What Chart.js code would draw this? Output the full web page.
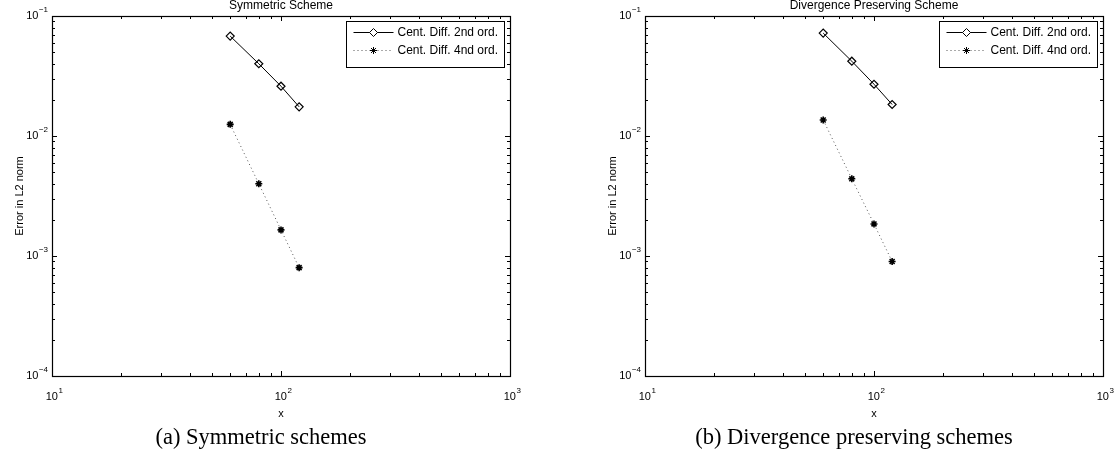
<!DOCTYPE html>
<html>
<head>
<meta charset="utf-8">
<script src="https://cdn.jsdelivr.net/npm/chart.js@4.4.0/dist/chart.umd.min.js"></script>
<style>
html,body{margin:0;padding:0;background:#fff;width:1115px;height:454px;overflow:hidden;}
.panel{position:absolute;top:0;width:522px;height:430px;}
.cap{position:absolute;top:424px;font-family:'Liberation Serif',serif;font-size:22.5px;line-height:26px;white-space:nowrap;transform:translateX(-50%);color:#000;}
</style>
</head>
<body>
<div class="panel" style="left:0"><canvas id="c1" width="522" height="430"></canvas></div>
<div class="panel" style="left:593px"><canvas id="c2" width="522" height="430"></canvas></div>
<div class="cap" style="left:261px">(a) Symmetric schemes</div>
<div class="cap" style="left:854px">(b) Divergence preserving schemes</div>
<script>
// ---- data ----
const gridSizes = [60, 80, 100, 120];
const symSecond = [0.068, 0.040, 0.026, 0.0175];
const symFourth = [0.0125, 0.0040, 0.00165, 0.0008];
const divSecond = [0.072, 0.042, 0.027, 0.0183];
const divFourth = [0.0136, 0.0044, 0.00185, 0.0009];
const xTickValues = [10, 100, 1000];
const xTickExponents = ['1', '2', '3'];
const yTickValues = [1e-4, 1e-3, 1e-2, 1e-1];
const yTickExponents = ['\u22124', '\u22123', '\u22122', '\u22121'];
const tickBase = '10';
const seriesLabels = ['Cent. Diff. 2nd ord.', 'Cent. Diff. 4nd ord.'];
const panelTitles = ['Symmetric Scheme', 'Divergence Preserving Scheme'];
const xAxisTitle = 'x';
const yAxisTitle = 'Error in L2 norm';

const SANS = "'Liberation Sans', Arial, sans-serif";

function minorValues(lo, hi) {
  const out = [];
  for (let d = lo; d < hi * 0.999; d *= 10) {
    for (let k = 1; k <= 9; k++) out.push({v: k * d, major: k === 1});
  }
  out.push({v: hi, major: true});
  return out;
}

const framePlugin = {
  id: 'frame',
  afterDatasetsDraw(chart, args, opts) {
    const {ctx, chartArea: a, scales: {x, y}} = chart;
    ctx.save();
    ctx.strokeStyle = '#000';
    ctx.lineWidth = 1;
    // inward ticks (major + minor) on all four sides
    ctx.beginPath();
    minorValues(10, 1000).forEach(t => {
      const px = Math.round(x.getPixelForValue(t.v)) + 0.5;
      const len = t.major ? 5 : 3;
      ctx.moveTo(px, a.bottom); ctx.lineTo(px, a.bottom - len);
      ctx.moveTo(px, a.top); ctx.lineTo(px, a.top + len);
    });
    minorValues(1e-4, 1e-1).forEach(t => {
      const py = Math.round(y.getPixelForValue(t.v)) + 0.5;
      const len = t.major ? 5 : 3;
      ctx.moveTo(a.left, py); ctx.lineTo(a.left + len, py);
      ctx.moveTo(a.right, py); ctx.lineTo(a.right - len, py);
    });
    ctx.stroke();
    // box
    ctx.lineWidth = 1.2;
    ctx.strokeRect(Math.round(a.left) + 0.5, Math.round(a.top) + 0.5,
                   Math.round(a.right - a.left), Math.round(a.bottom - a.top));

    // tick labels: 10 with superscript exponent, placed by the scales
    const baseFont = '11px ' + SANS, expFont = '8px ' + SANS;
    ctx.fillStyle = '#000';
    ctx.textBaseline = 'middle';
    x.ticks.forEach((t, i) => {
      const px = x.getPixelForValue(t.value);
      ctx.font = baseFont; const wb = ctx.measureText(tickBase).width;
      ctx.font = expFont; const we = ctx.measureText(xTickExponents[i]).width;
      const x0 = px - (wb + we) / 2 + 2;
      const ly = a.bottom + 21;
      ctx.textAlign = 'left';
      ctx.font = baseFont; ctx.fillText(tickBase, x0, ly);
      ctx.font = expFont; ctx.fillText(xTickExponents[i], x0 + wb + 0.5, ly - 6);
    });
    y.ticks.forEach((t, i) => {
      const py = y.getPixelForValue(t.value);
      ctx.font = expFont; const we = ctx.measureText(yTickExponents[i]).width;
      const xr = a.left - 4;
      ctx.textAlign = 'right';
      ctx.fillText(yTickExponents[i], xr, py - 6);
      ctx.font = baseFont; ctx.fillText(tickBase, xr - we - 0.5, py);
    });

    // title
    ctx.font = '12px ' + SANS;
    ctx.textAlign = 'center';
    ctx.fillText(opts.text, (a.left + a.right) / 2, a.top - 10);

    // legend
    const bw = 158, bh = 46;
    const bx = Math.round(a.right - 6 - bw) + 0.5, by = Math.round(a.top + 5) + 0.5;
    ctx.fillStyle = '#fff';
    ctx.fillRect(bx, by, bw, bh);
    ctx.lineWidth = 1;
    ctx.strokeStyle = '#000';
    ctx.strokeRect(bx, by, bw, bh);
    chart.data.datasets.forEach((ds, i) => {
      const ry = by + 11 + i * 18;
      ctx.save();
      ctx.strokeStyle = ds.borderColor;
      ctx.lineWidth = ds.borderWidth;
      ctx.setLineDash(ds.borderDash || []);
      ctx.beginPath();
      ctx.moveTo(bx + 7, ry); ctx.lineTo(bx + 47, ry);
      ctx.stroke();
      ctx.restore();
      ctx.save();
      ctx.strokeStyle = ds.pointBorderColor;
      ctx.fillStyle = '#fff';
      Chart.helpers.drawPoint(ctx, {pointStyle: ds.pointStyle, rotation: 0,
        radius: ds.pointRadius, borderWidth: ds.pointBorderWidth}, bx + 27, ry);
      ctx.restore();
      ctx.fillStyle = '#000';
      ctx.font = '12px ' + SANS;
      ctx.textAlign = 'left';
      ctx.textBaseline = 'middle';
      ctx.fillText(ds.label, bx + 51, ry);
    });
    ctx.restore();
  }
};

function makeChart(id, title, second, fourth) {
  return new Chart(document.getElementById(id), {
    type: 'scatter',
    data: {
      datasets: [
        {
          label: seriesLabels[0],
          data: gridSizes.map((v, i) => ({x: v, y: second[i]})),
          showLine: true, borderColor: '#000', borderWidth: 1,
          pointStyle: 'rectRot', pointRadius: 4, pointBorderWidth: 1.2,
          pointBorderColor: '#000', pointBackgroundColor: 'rgba(255,255,255,0)'
        },
        {
          label: seriesLabels[1],
          data: gridSizes.map((v, i) => ({x: v, y: fourth[i]})),
          showLine: true, borderColor: '#555', borderWidth: 1, borderDash: [1, 3],
          pointStyle: 'star', pointRadius: 3.5, pointBorderWidth: 1.6,
          pointBorderColor: '#000', pointBackgroundColor: '#000'
        }
      ]
    },
    options: {
      responsive: false, animation: false, devicePixelRatio: 1,
      events: [],
      layout: {padding: {left: 0, right: 12, top: 16, bottom: 0}},
      plugins: {legend: {display: false}, tooltip: {enabled: false}, frame: {text: title}},
      scales: {
        x: {
          type: 'logarithmic', min: 10, max: 1000, position: 'bottom',
          afterBuildTicks: s => { s.ticks = xTickValues.map(v => ({value: v})); },
          afterFit: s => { s.height = 54; s.paddingLeft = 0; s.paddingRight = 0; },
          grid: {display: false, drawTicks: false}, border: {display: false},
          ticks: {display: false},
          title: {display: true, text: xAxisTitle, color: '#000', font: {family: SANS, size: 11},
                  padding: {top: 0, bottom: 9}}
        },
        y: {
          type: 'logarithmic', min: 1e-4, max: 1e-1, position: 'left',
          afterBuildTicks: s => { s.ticks = yTickValues.map(v => ({value: v})); },
          afterFit: s => { s.width = 52; s.paddingTop = 0; s.paddingBottom = 0; },
          grid: {display: false, drawTicks: false}, border: {display: false},
          ticks: {display: false},
          title: {display: true, text: yAxisTitle, color: '#000', font: {family: SANS, size: 11},
                  padding: {top: 13, bottom: 0}}
        }
      }
    },
    plugins: [framePlugin]
  });
}

makeChart('c1', panelTitles[0], symSecond, symFourth);
makeChart('c2', panelTitles[1], divSecond, divFourth);
</script>
</body>
</html>
